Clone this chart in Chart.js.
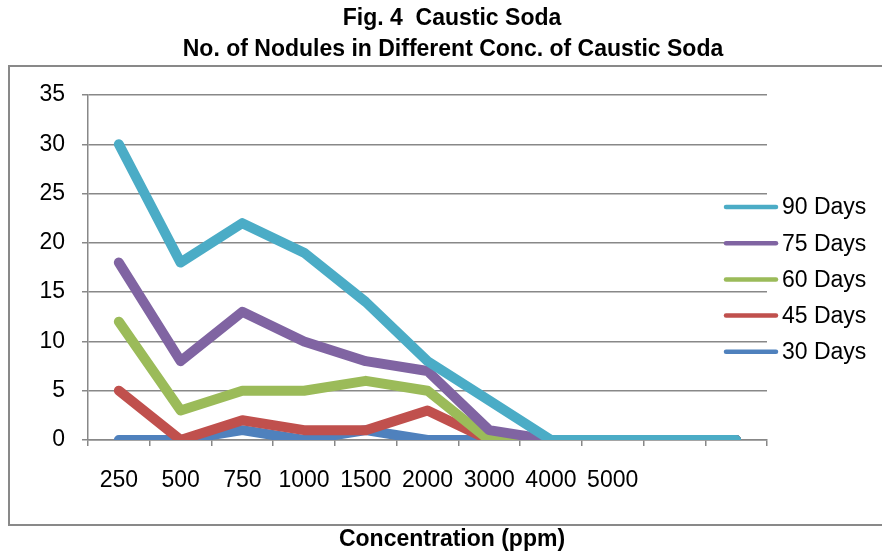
<!DOCTYPE html>
<html>
<head>
<meta charset="utf-8">
<script src="https://cdn.jsdelivr.net/npm/chart.js@4/dist/chart.umd.min.js"></script>
<style>
  body { margin: 0; background: #fff; }
  canvas { display: block; }
</style>
</head>
<body>
<canvas id="nodules" width="882" height="551"></canvas>
<script>
const concLabels = ["250", "500", "750", "1000", "1500", "2000", "3000", "4000", "5000", "", ""];
const days90 = [30, 18, 22, 19, 14, 8, 4, 0, 0, 0, 0];
const days75 = [18, 8, 13, 10, 8, 7, 1, 0, 0, 0, 0];
const days60 = [12, 3, 5, 5, 6, 5, 0, 0, 0, 0, 0];
const days45 = [5, 0, 2, 1, 1, 3, 0, 0, 0, 0, 0];
const days30 = [0, 0, 1, 0, 1, 0, 0, 0, 0, 0, 0];
const yTicks = [0, 5, 10, 15, 20, 25, 30, 35];

const FONT = "'Liberation Sans', Arial, sans-serif";
const GRID = "#888888";

function line(label, data, color) {
  return {
    label: label,
    data: data,
    borderColor: color,
    backgroundColor: color,
    borderWidth: 10,
    borderCapStyle: "round",
    borderJoinStyle: "round",
    pointRadius: 0,
    tension: 0,
    clip: 0
  };
}

// frame, titles and legend drawn round the plot
const decor = {
  id: "decor",
  beforeDraw(chart) {
    const ctx = chart.ctx;
    ctx.save();
    ctx.fillStyle = "#fff";
    ctx.fillRect(0, 0, chart.width, chart.height);
    ctx.strokeStyle = "#898989";
    ctx.lineWidth = 2;
    ctx.strokeRect(9, 66, 890, 459);
    ctx.restore();
  },
  afterDraw(chart) {
    const ctx = chart.ctx;
    ctx.save();
    ctx.fillStyle = "#000";
    ctx.textAlign = "center";
    ctx.textBaseline = "middle";
    ctx.font = "bold 23px " + FONT;
    ctx.fillText("Fig. 4  Caustic Soda", 452, 19);
    ctx.fillText("No. of Nodules in Different Conc. of Caustic Soda", 453, 50);
    ctx.fillText("Concentration (ppm)", 452, 540);

    ctx.textAlign = "left";
    ctx.font = "23px " + FONT;
    chart.data.datasets.forEach(function (ds, i) {
      const y = 207 + i * 36.2;
      ctx.strokeStyle = ds.borderColor;
      ctx.lineWidth = 4.5;
      ctx.lineCap = "round";
      ctx.beginPath();
      ctx.moveTo(726, y);
      ctx.lineTo(776, y);
      ctx.stroke();
      ctx.fillText(ds.label, 782, y + 1);
    });
    ctx.restore();
  }
};

new Chart(document.getElementById("nodules").getContext("2d"), {
  type: "line",
  data: {
    labels: concLabels,
    datasets: [
      line("90 Days", days90, "#4BACC6"),
      line("75 Days", days75, "#8064A2"),
      line("60 Days", days60, "#9BBB59"),
      line("45 Days", days45, "#C0504D"),
      line("30 Days", days30, "#4F81BD")
    ]
  },
  options: {
    responsive: false,
    animation: false,
    layout: { padding: { top: 95, right: 115, bottom: 0, left: 0 } },
    plugins: {
      legend: { display: false },
      title: { display: false },
      tooltip: { enabled: false }
    },
    scales: {
      x: {
        offset: true,
        grid: { offset: true, drawOnChartArea: false, drawTicks: true, tickLength: 6, color: GRID, lineWidth: 1.5 },
        border: { display: true, color: GRID, width: 1.5 },
        ticks: { color: "#000", font: { family: FONT, size: 23 }, padding: 21, maxRotation: 0, autoSkip: false },
        afterFit(s) { s.height = 111; }
      },
      y: {
        min: 0,
        max: 35,
        afterBuildTicks(s) { s.ticks = yTicks.map(v => ({ value: v })); },
        grid: { tickLength: 6, color: GRID, lineWidth: 1.5 },
        border: { display: true, color: GRID, width: 1.5 },
        ticks: { color: "#000", font: { family: FONT, size: 23 }, padding: 17 },
        afterFit(s) { s.width = 88; }
      }
    }
  },
  plugins: [decor]
});
</script>
</body>
</html>
